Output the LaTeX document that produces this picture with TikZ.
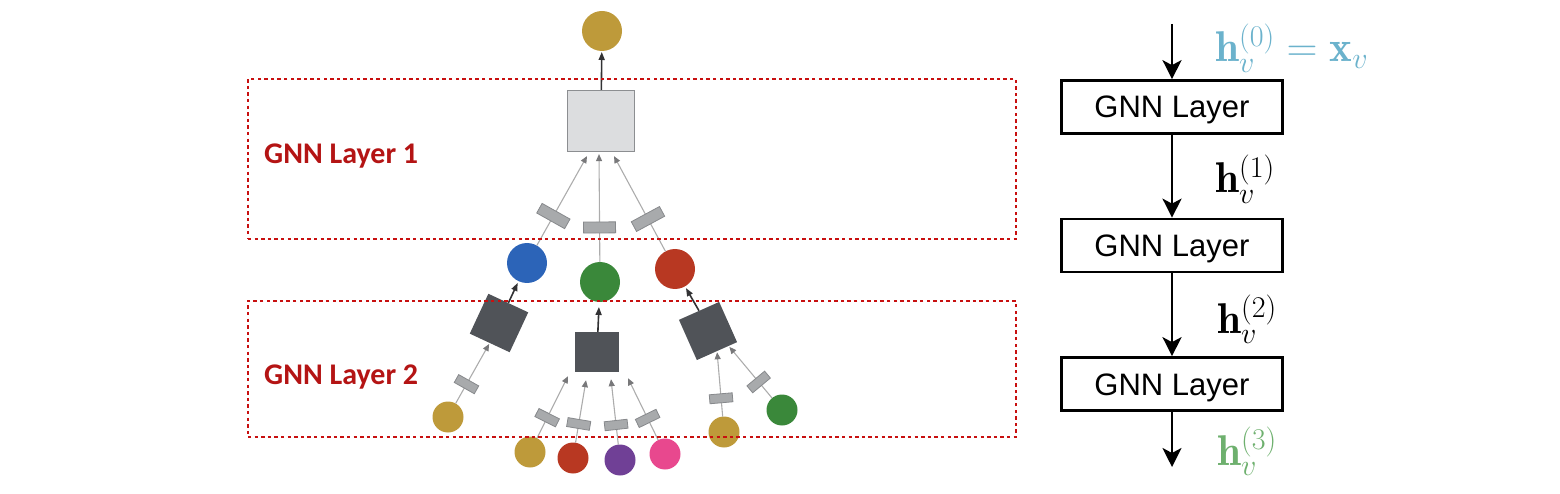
\RequirePackage{fix-cm}
\documentclass[tikz,border=0pt]{standalone}
\usepackage{fontspec}
\usepackage{amsmath}
\usetikzlibrary{positioning, arrows.meta, calc}
\newfontfamily\calibrifont{Carlito}
\newfontfamily\arialfont{Liberation Sans}
\definecolor{gold}{RGB}{190,154,58}
\definecolor{nblue}{RGB}{44,100,184}
\definecolor{ngreen}{RGB}{58,136,58}
\definecolor{nred}{RGB}{184,56,34}
\definecolor{npurple}{RGB}{112,64,150}
\definecolor{npink}{RGB}{232,72,142}
\definecolor{aggdark}{RGB}{80,83,88}
\definecolor{agglight}{RGB}{220,221,223}
\definecolor{aggedge}{RGB}{140,142,145}
\definecolor{msgfill}{RGB}{168,170,172}
\definecolor{msgedge}{RGB}{135,137,140}
\definecolor{msgline}{RGB}{172,172,172}
\definecolor{msgtip}{RGB}{120,120,122}
\definecolor{updark}{RGB}{50,50,52}
\definecolor{framered}{RGB}{200,16,16}
\definecolor{labelred}{RGB}{180,20,20}
\definecolor{hblue}{RGB}{107,178,204}
\definecolor{hgreen}{RGB}{110,176,110}

\begin{document}
\begin{tikzpicture}[
    x=1pt, y=-1pt,
    ball/.style={circle, inner sep=0pt, outer sep=0pt, minimum size=40pt, fill=#1},
    leaf/.style={ball=#1, minimum size=31pt},
    aggtop/.style={draw=aggedge, line width=1.2pt, fill=agglight, minimum width=67pt, minimum height=61pt, inner sep=0pt},
    aggbot/.style={fill=aggdark, minimum size=44pt, inner sep=0pt},
    msgbox/.style={draw=msgedge, line width=0.8pt, fill=msgfill, sloped, inner sep=0pt, minimum width=11pt, minimum height=32pt},
    msgboxsm/.style={msgbox, minimum width=9pt, minimum height=23pt},
    msg/.style={draw=msgline, line width=1.1pt, -{Triangle[length=7pt, width=6pt, color=msgtip]}},
    upd/.style={draw=updark, line width=1.6pt, -{Triangle[length=8pt, width=6pt]}},
    layerframe/.style={draw=framered, line width=2.3pt, dash pattern=on 3.4pt off 3.2pt, minimum width=768pt, inner sep=0pt},
    layertag/.style={anchor=base west, inner sep=0pt, text=labelred, font=\calibrifont\bfseries\fontsize{30}{36}\selectfont},
    gnnbox/.style={draw, line width=2.7pt, minimum width=221pt, minimum height=53pt, inner sep=0pt, text height=22pt, text depth=0pt, font=\arialfont\fontsize{31}{37}\selectfont},
    flow/.style={line width=2.5pt, -{Stealth[length=19pt, width=19pt, inset=5pt]}},
    hlabel/.style={anchor=base west, inner sep=0pt, font=\fontsize{43}{50}\selectfont}
]
\useasboundingbox (0,0) rectangle (1560,494);

% Root and first hop
\node[ball=gold] (root) at (602,31) {};
\node[aggtop] (aggA) at (601,121) {};
\node[ball=nblue] (hopB) at (527,263) {};
\node[ball=ngreen] (hopG) at (600,282) {};
\node[ball=nred] (hopR) at (675,269) {};

% Second hop aggregators
\node[aggbot, rotate=-25] (aggB) at (499,323) {};
\node[aggbot, minimum height=40pt] (aggG) at (597,352) {};
\node[aggbot, rotate=24] (aggR) at (708,331) {};

% Leaves
\node[leaf=gold] (leafB) at (448,417) {};
\node[leaf=gold] (leafG1) at (530,452) {};
\node[leaf=nred] (leafG2) at (573,458) {};
\node[leaf=npurple] (leafG3) at (620,460) {};
\node[leaf=npink] (leafG4) at (665,454) {};
\node[leaf=gold] (leafR1) at (724,432) {};
\node[leaf=ngreen] (leafR2) at (782,410) {};

% Messages into layer 1
\draw[msg] (hopB) -- node[msgbox, pos=0.33] (mB) {} ($(aggA.south)+(-14,4)$);
\draw[msg] (hopG) -- node[msgbox, pos=0.32] (mG) {} ($(aggA.south)+(-2,2)$);
\draw[msg] (hopR) -- node[msgbox, pos=0.34] (mR) {} ($(aggA.south)+(13,4)$);
\draw[upd, shorten >=1pt] (aggA) -- (root);

% Messages into layer 2
\draw[msg, shorten >=1pt] (leafB) -- node[msgboxsm, pos=0.32] (mLB) {} (aggB.south);
\draw[msg] (leafG1) -- node[msgboxsm, pos=0.33] (mLG1) {} ($(aggG.south)+(-29,4)$);
\draw[msg] (leafG2) -- node[msgboxsm, pos=0.30] (mLG2) {} ($(aggG.south)+(-11,8)$);
\draw[msg] (leafG3) -- node[msgboxsm, pos=0.30] (mLG3) {} ($(aggG.south)+(14,7)$);
\draw[msg] (leafG4) -- node[msgboxsm, pos=0.35] (mLG4) {} ($(aggG.south)+(31,6)$);
\draw[msg, shorten >=1pt] (leafR1) -- node[msgboxsm, pos=0.28] (mLR1) {} (aggR.south);
\draw[msg, shorten >=1pt] (leafR2) -- node[msgboxsm, pos=0.31] (mLR2) {} (aggR.-60);
\draw[upd, shorten >=2pt] (aggB.north) -- (hopB);
\draw[upd, shorten >=5pt] (aggG) -- (hopG);
\draw[upd, shorten >=2pt] (aggR.north) -- (hopR);

% Layer frames
\node[layerframe, minimum height=160pt] (frameA) at (632,159) {};
\node[layerframe, minimum height=136pt] (frameB) at (632,369) {};
\node[layertag] (tagA) at (264,164) {GNN Layer 1};
\node[layertag] (tagB) at (264,384) {GNN Layer 2};

% Stacked layers
\node[gnnbox] (gnnA) at (1172,107) {GNN Layer};
\node[gnnbox] (gnnB) at (1172,245.5) {GNN Layer};
\node[gnnbox] (gnnC) at (1172,384) {GNN Layer};
\coordinate (xin) at (1172,24);
\coordinate (hout) at (1172,467);
\draw[flow] (xin) -- (gnnA);
\draw[flow] (gnnA) -- (gnnB);
\draw[flow] (gnnB) -- (gnnC);
\draw[flow] (gnnC) -- (hout);

% Embeddings
\node[hlabel, text=hblue] (hzero) at (1215,62) {$\mathbf{h}_{v}^{(0)}=\mathbf{x}_{v}$};
\node[hlabel] (hone) at (1215,193) {$\mathbf{h}_{v}^{(1)}$};
\node[hlabel] (htwo) at (1217,333) {$\mathbf{h}_{v}^{(2)}$};
\node[hlabel, text=hgreen] (hthree) at (1217,465) {$\mathbf{h}_{v}^{(3)}$};
\end{tikzpicture}
\end{document}
